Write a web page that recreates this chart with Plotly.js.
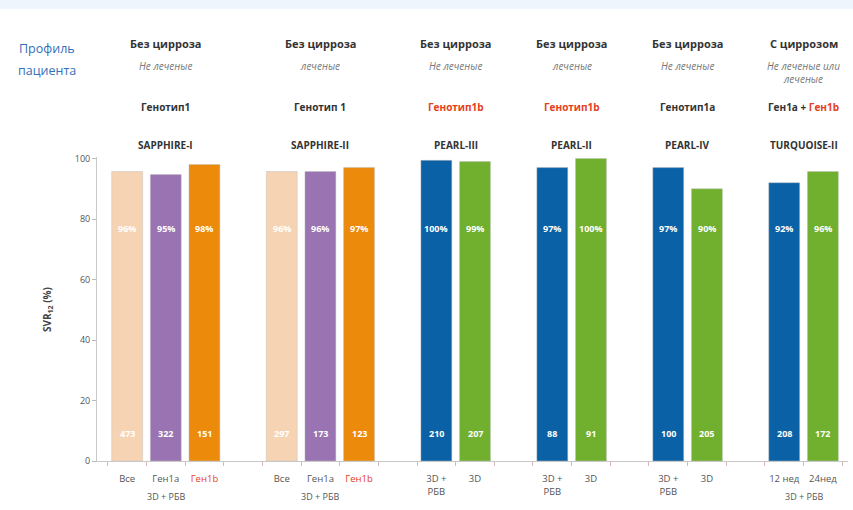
<!DOCTYPE html>
<html>
<head>
<meta charset="utf-8">
<script src="https://cdn.plot.ly/plotly-3.0.1.min.js"></script>
<style>
html,body{margin:0;padding:0;background:#fff;}
#chart{width:853px;height:510px;}
</style>
</head>
<body>
<div id="chart"></div>
<script>
// ---------- DATA ----------
const trials = ['SAPPHIRE-I','SAPPHIRE-II','PEARL-III','PEARL-II','PEARL-IV','TURQUOISE-II'];
const cirrhosis = ['Без цирроза','Без цирроза','Без цирроза','Без цирроза','Без цирроза','С циррозом'];
const treatment = ['Не леченые','леченые','Не леченые','леченые','Не леченые','Не леченые или<br>леченые'];
const genotype = ['Генотип1','Генотип 1','Генотип1b','Генотип1b','Генотип1a','Ген1а + Ген1b'];
const groupUnderLabel = ['3D + РБВ','3D + РБВ','','','','3D + РБВ'];

const barGroup  = [0,0,0, 1,1,1, 2,2, 3,3, 4,4, 5,5];
const barLabels = ['Все','Ген1а','Ген1b','Все','Ген1а','Ген1b',
                   '3D +<br>РБВ','3D','3D +<br>РБВ','3D','3D +<br>РБВ','3D','12 нед','24нед'];
const barKind   = ['all','gt1a','gt1b','all','gt1a','gt1b',
                   'rbv','norbv','rbv','norbv','rbv','norbv','rbv','norbv'];
const svr       = [95.7,94.7,98.0,95.7,95.7,97.0,99.4,99.0,97.0,100,97.0,90.0,92.0,95.7];
const svrText   = ['96%','95%','98%','96%','96%','97%','100%','99%','97%','100%','97%','90%','92%','96%'];
const nPatients = [473,322,151,297,173,123,210,207,88,91,100,205,208,172];
const yTicks    = [0,20,40,60,80,100];
const yTitle    = 'SVR<sub>12</sub> (%)';
const profileLines = ['Профиль','пациента'];

// ---------- STYLE ----------
const kindColor = {all:'#f6d4b3', gt1a:'#9a73b2', gt1b:'#ec8a0b', rbv:'#0a61a6', norbv:'#71b02f'};
const RED = '#e5401d';
const FONT = 'Open Sans, DejaVu Sans, sans-serif';
const px2py = py => (461 - py) / 304;           // pixel row -> paper y
const px2px = px => (px - 97) / 751;             // pixel col -> paper x
const redden = s => s.replace(/(Ген(?:отип)?1b)/g, '<span style="color:'+RED+'">$1</span>');

// positions: consecutive bars, one empty slot between groups (derived)
const pos = [];
let p = 0;
barGroup.forEach((g,i) => { if (i>0 && g !== barGroup[i-1]) p += 1; pos.push(p); p += 1; });
const groupCenter = trials.map((_,g) => {
  const ps = pos.filter((_,i) => barGroup[i] === g);
  return (ps[0] + ps[ps.length-1]) / 2;
});

const traces = [{
  type:'bar',
  x: pos, y: svr,
  width: 0.8,
  marker:{color: barKind.map(k => kindColor[k]), line:{color:'rgba(190,190,190,0.45)', width:1}},
  hoverinfo:'skip'
}];

const A = (o) => Object.assign({showarrow:false, xanchor:'center', yanchor:'middle'}, o);
const ann = [];
pos.forEach((x,i) => {
  ann.push(A({x:x, y:77, xref:'x', yref:'y', text:'<b>'+svrText[i]+'</b>',
            font:{family:FONT, size:9, color:'#ffffff'}}));
  ann.push(A({x:x, y:9, xref:'x', yref:'y', text:'<b>'+nPatients[i]+'</b>',
            font:{family:FONT, size:9, color:'#ffffff'}}));
});
groupCenter.forEach((cx,g) => {
  ann.push(A({x:cx, y:px2py(43), xref:'x', yref:'paper', text:'<b>'+cirrhosis[g]+'</b>',
            font:{family:FONT, size:11, color:'#333'}}));
  ann.push(A({x:cx, y:px2py(57), xref:'x', yref:'paper', yanchor:'top', text:'<i>'+treatment[g]+'</i>',
            font:{family:FONT, size:10, color:'#777'}}));
  ann.push(A({x:cx, y:px2py(107), xref:'x', yref:'paper', text:'<b>'+redden(genotype[g])+'</b>',
            font:{family:FONT, size:10, color:'#333'}}));
  ann.push(A({x:cx, y:px2py(145), xref:'x', yref:'paper', text:'<b>'+trials[g]+'</b>',
            font:{family:FONT, size:10, color:'#333'}}));
  if (groupUnderLabel[g]) {
    ann.push(A({x:cx, y:px2py(496), xref:'x', yref:'paper', text:groupUnderLabel[g],
              font:{family:FONT, size:9, color:'#555'}}));
  }
});
ann.push(A({x:px2px(47), y:px2py(48), xref:'paper', yref:'paper', text:profileLines[0],
          font:{family:FONT, size:12.5, color:'#3470b8'}}));
ann.push(A({x:px2px(47), y:px2py(71), xref:'paper', yref:'paper', text:profileLines[1],
          font:{family:FONT, size:12.5, color:'#3470b8'}}));
ann.push(A({x:px2px(47), y:0.5, xref:'paper', yref:'paper', text:'<b>'+yTitle+'</b>', textangle:-90,
          font:{family:FONT, size:10, color:'#444'}}));

const layout = {
  width:853, height:510,
  margin:{l:97, r:5, t:157, b:49},
  paper_bgcolor:'#ffffff', plot_bgcolor:'#ffffff',
  showlegend:false,
  font:{family:FONT, color:'#555'},
  xaxis:{
    range:[-0.78, 18.65],
    tickmode:'array', tickvals:pos, ticktext:barLabels.map(redden),
    ticks:'', showgrid:false, zeroline:false,
    ticklabelstandoff:9,
    showline:true, linecolor:'#c8c8c8', linewidth:1,
    tickfont:{family:FONT, size:9.5, color:'#555'},
    minor:{ticks:'outside', tick0:-0.5, dtick:1, ticklen:4, tickcolor:'#d4b8b8', showgrid:false},
    fixedrange:true
  },
  yaxis:{
    range:[0, 100.5],
    tickmode:'array', tickvals:yTicks,
    ticks:'outside', ticklen:4, tickcolor:'#bbb',
    showgrid:false, zeroline:false,
    showline:true, linecolor:'#c8c8c8', linewidth:1,
    tickfont:{family:FONT, size:9, color:'#555'},
    fixedrange:true
  },
  shapes:[{type:'rect', xref:'paper', yref:'paper', x0:-0.2, x1:1.1, y0:px2py(9), y1:px2py(-5),
           fillcolor:'#eef5fc', line:{width:0}, layer:'below'}],
  annotations: ann
};

Plotly.newPlot('chart', traces, layout, {displayModeBar:false, staticPlot:true});
</script>
</body>
</html>
